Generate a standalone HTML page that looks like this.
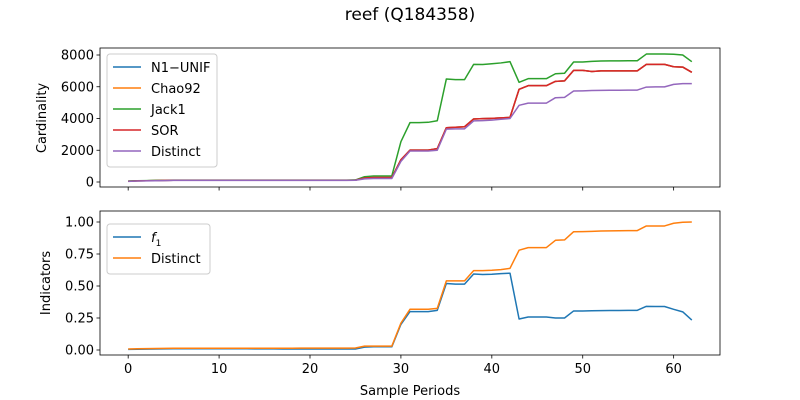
<!DOCTYPE html>
<html><head><meta charset="utf-8"><style>
html,body{margin:0;padding:0;background:#fff;width:800px;height:400px;overflow:hidden}
svg text{font-family:"DejaVu Sans","Liberation Sans",sans-serif;font-size:13px;fill:#000}
</style></head><body>
<svg id="chart" width="800" height="400" viewBox="0 0 800 400"></svg>
<script>
const periods = Array.from({length:63},(_,i)=>i);
const jack1 = [60,80,90,100,110,120,120,120,120,120,120,120,120,120,120,120,120,120,120,120,120,120,120,120,120,130,330,380,380,380,2540,3740,3740,3760,3860,6490,6450,6450,7410,7400,7450,7500,7580,6280,6510,6510,6510,6820,6850,7560,7560,7600,7620,7630,7630,7640,7640,8060,8060,8060,8050,8000,7580];
const sor = [50,70,80,90,100,110,110,110,110,110,110,110,110,110,110,110,110,110,110,110,110,110,110,110,110,120,250,280,280,280,1400,2010,2010,2010,2100,3420,3450,3480,3970,3990,4010,4040,4070,5840,6070,6070,6070,6340,6370,7030,7030,6960,7000,7000,7000,7000,7000,7410,7410,7410,7260,7240,6910];
const chao92 = sor.slice();
const n1unif = sor.slice();
const distinctCard = [40,60,70,80,90,100,100,100,100,100,100,100,100,100,100,100,100,100,100,100,100,100,100,100,100,110,200,220,220,220,1300,1950,1950,1950,2000,3330,3350,3350,3850,3870,3900,3950,4000,4830,4970,4970,4970,5310,5330,5730,5740,5760,5770,5780,5780,5790,5790,5980,5990,5990,6150,6200,6200];
const f1 = [0.005,0.006,0.007,0.008,0.009,0.01,0.01,0.01,0.01,0.01,0.01,0.01,0.01,0.01,0.009,0.009,0.009,0.008,0.008,0.008,0.008,0.008,0.008,0.008,0.008,0.008,0.022,0.025,0.025,0.025,0.2,0.3,0.3,0.3,0.31,0.52,0.515,0.515,0.594,0.59,0.592,0.597,0.6,0.242,0.258,0.258,0.258,0.25,0.25,0.305,0.305,0.307,0.308,0.309,0.309,0.31,0.31,0.341,0.34,0.34,0.318,0.298,0.234];
const distinctInd = [0.008,0.01,0.011,0.012,0.013,0.014,0.014,0.014,0.014,0.014,0.014,0.014,0.014,0.014,0.014,0.014,0.014,0.014,0.014,0.015,0.015,0.015,0.015,0.015,0.015,0.016,0.03,0.03,0.03,0.03,0.21,0.318,0.318,0.318,0.325,0.54,0.54,0.54,0.62,0.62,0.623,0.628,0.638,0.78,0.80,0.80,0.80,0.857,0.86,0.924,0.925,0.927,0.93,0.931,0.932,0.933,0.933,0.969,0.969,0.969,0.99,0.998,1.0];
const xTicks = [0,10,20,30,40,50,60];
const topYTicks = [0,2000,4000,6000,8000];
const botYTicks = [0,0.25,0.5,0.75,1.0];
const botYLabels = ["0.00","0.25","0.50","0.75","1.00"];

const NS="http://www.w3.org/2000/svg";
const svg=document.getElementById('chart');
function mk(t,a,p){const e=document.createElementNS(NS,t);for(const k in a)e.setAttribute(k,a[k]);(p||svg).appendChild(e);return e;}
const X0=100,X1=720;
const xs=v=>X0+(v+3.1)/68.2*(X1-X0);
const yTop=v=>182-v*0.015875;
const yBot=v=>350-v*128;

const title=mk('text',{x:410,y:20,'text-anchor':'middle',style:'font-size:17px'});title.textContent='reef (Q184358)';



function axes(name,top,bot,ys,ticks,labels,showX){
  const g=mk('g',{});
  
  
  ticks.forEach((t,i)=>{const y=ys(t);mk('line',{x1:X0-3.5,x2:X0,y1:y,y2:y,stroke:'#000','stroke-width':0.8},g);
    const tx=mk('text',{x:X0-6,y:y+4.5,'text-anchor':'end'},g);tx.textContent=labels[i];
    
    });
  xTicks.forEach(t=>{const x=xs(t);mk('line',{x1:x,x2:x,y1:bot,y2:bot+3.5,stroke:'#000','stroke-width':0.8},g);
    if(showX){const tx=mk('text',{x:x,y:bot+18,'text-anchor':'middle'},g);tx.textContent=t;
    
    }});
  return g;
}
function series(g,data,ys,color,name){
  const p=mk('polyline',{points:periods.map((x,i)=>xs(x)+','+ys(data[i])).join(' '),fill:'none',stroke:color,'stroke-width':1.5,'stroke-linejoin':'round'},g);
  
  
}
function frame(top,bot){mk('rect',{x:X0,y:top,width:X1-X0,height:bot-top,fill:'none',stroke:'#000','stroke-width':0.8});}
function legend(x,y,w,entries,name){
  const g=mk('g',{});
  
  
  mk('rect',{x:x,y:y,width:w,height:entries.length*21+8,rx:3,fill:'#fff','fill-opacity':0.8,stroke:'#ccc'},g);
  entries.forEach((e,i)=>{const cy=y+13+i*21;
    mk('line',{x1:x+6,x2:x+34,y1:cy,y2:cy,stroke:e[1],'stroke-width':1.5},g);
    const t=mk('text',{x:x+44,y:cy+5},g);
    if(e[0]==='f1'){t.innerHTML='<tspan font-style="italic">f</tspan><tspan font-size="9" dy="4">1</tspan>';}else t.textContent=e[0];
    
    });
}
const C={blue:'#1f77b4',orange:'#ff7f0e',green:'#2ca02c',red:'#d62728',purple:'#9467bd'};

const gt=axes('top-axes',48,187,yTop,topYTicks,topYTicks.map(String),false);
series(gt,n1unif,yTop,C.blue,'n1-unif-line');
series(gt,chao92,yTop,C.orange,'chao92-line');
series(gt,jack1,yTop,C.green,'jack1-line');
series(gt,sor,yTop,C.red,'sor-line');
series(gt,distinctCard,yTop,C.purple,'distinct-cardinality-line');
frame(48,187);
legend(107,54,110,[['N1\u2212UNIF',C.blue],['Chao92',C.orange],['Jack1',C.green],['SOR',C.red],['Distinct',C.purple]],'top-legend');
const yl1=mk('text',{x:0,y:0,'text-anchor':'middle',transform:'translate(46,118) rotate(-90)'});yl1.textContent='Cardinality';



const gb=axes('bottom-axes',211,355,yBot,botYTicks,botYLabels,true);
series(gb,f1,yBot,C.blue,'f1-line');
series(gb,distinctInd,yBot,C.orange,'distinct-indicator-line');
frame(211,355);
legend(107,224,103,[['f1',C.blue],['Distinct',C.orange]],'bottom-legend');
const yl2=mk('text',{x:0,y:0,'text-anchor':'middle',transform:'translate(50,283) rotate(-90)'});yl2.textContent='Indicators';


const xl=mk('text',{x:410,y:395,'text-anchor':'middle'});xl.textContent='Sample Periods';


</script>
</body></html>
